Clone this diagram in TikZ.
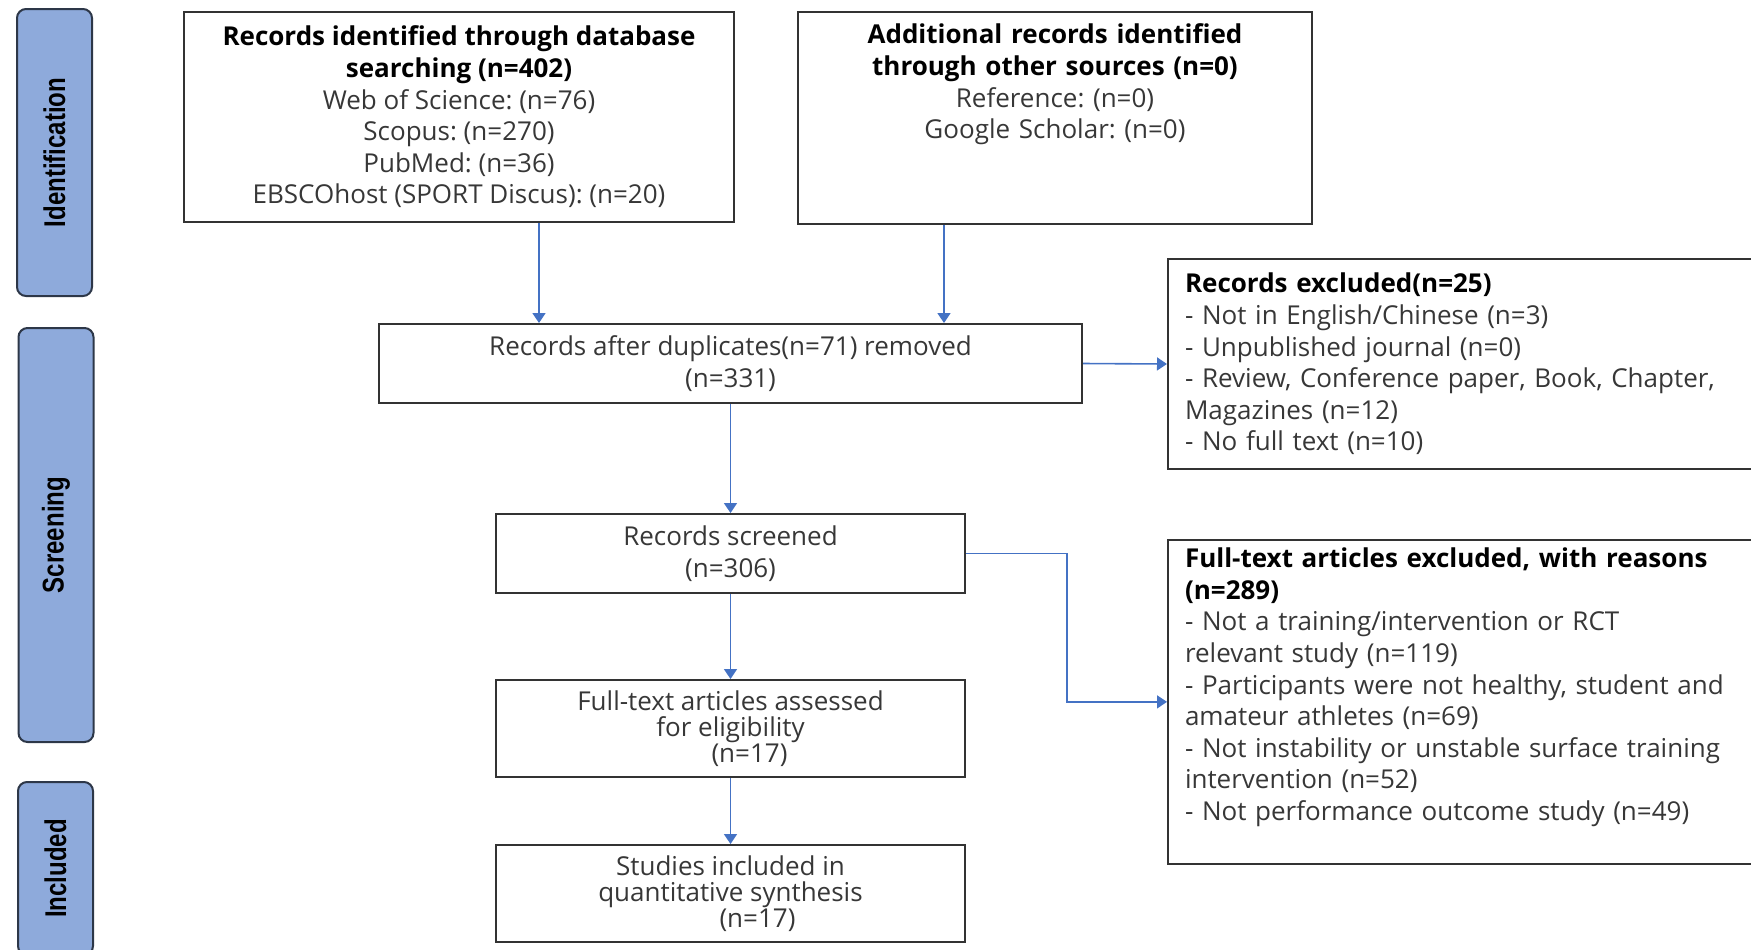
\documentclass[tikz,border=0pt]{standalone}
\usepackage{fontspec}
\setmainfont{Open Sans}
\newfontfamily\barfont{Liberation Sans}
\usetikzlibrary{arrows.meta}
\definecolor{barblue}{RGB}{142,170,219}
\definecolor{barline}{RGB}{45,55,72}
\definecolor{arrowblue}{RGB}{68,114,196}
\definecolor{txtgray}{RGB}{55,55,55}
\newcommand{\hd}[1]{\textcolor{black}{\textbf{#1}}}
\frenchspacing
\tikzset{
  box/.style={draw=black!80, line width=1pt, text=txtgray, inner sep=0pt, align=center, font=\fontsize{13}{15.8}\selectfont},
  sidebar/.style={draw=barline, fill=barblue, line width=1pt, rounded corners=4.5pt, inner sep=0pt, rotate=90, minimum height=37.5pt, font=\barfont\bfseries\fontsize{15}{15}\selectfont},
  arr/.style={draw=arrowblue, line width=0.8pt, -{Triangle[length=5pt,width=6.5pt]}},
}
\begin{document}
\begin{tikzpicture}[x=0.5pt,y=-0.5pt]
\useasboundingbox (0,0) rectangle (1751,949);
% stage bars
\node[sidebar, minimum width=143.5pt] (ident) at (54.5,152.5) {\scalebox{0.8}[1]{Identification}};
\node[sidebar, minimum width=207pt] (screen) at (56,535) {\scalebox{0.8}[1]{Screening}};
\node[sidebar, minimum width=86.5pt] (inclbar) at (55.5,868.5) {\scalebox{0.8}[1]{Included}};
% boxes
\node[box, minimum width=275pt, minimum height=105pt] (dbbox) at (459,117) {\hd{Records identified through database}\\\hd{searching (n=402)}\\Web of Science: (n=76)\\Scopus: (n=270)\\PubMed: (n=36)\\EBSCOhost (SPORT Discus): (n=20)};
\node[box, anchor=north, text width=257pt, inner ysep=6pt, text depth=84pt] (otherbox) at (1055,11) {\hd{Additional records identified}\\\hd{through other sources (n=0)}\\Reference: (n=0)\\Google Scholar: (n=0)};
\node[box, minimum width=351.5pt, minimum height=39.5pt] (dups) at (730.5,363.5) {Records after duplicates(n=71) removed\\(n=331)};
\node[box, anchor=west, align=left, text width=300pt, inner xsep=8.5pt, inner ysep=5pt, minimum height=105pt] (recexcl) at (1167,364) {\hd{Records excluded(n=25)}\\- Not in English/Chinese (n=3)\\- Unpublished journal (n=0)\\- Review, Conference paper, Book, Chapter,\\Magazines (n=12)\\- No full text (n=10)};
\node[box, minimum width=234.5pt, minimum height=39.5pt] (screened) at (730.5,553.5) {Records screened\\(n=306)};
\node[box, anchor=north west, align=left, text width=300pt, inner xsep=8.5pt, inner ysep=4pt, text depth=144pt] (ftexcl) at (1167,539) {\hd{Full-text articles excluded, with reasons}\\\hd{(n=289)}\\- Not a training/intervention or RCT\\relevant study (n=119)\\- Participants were not healthy, student and\\amateur athletes (n=69)\\- Not instability or unstable surface training\\intervention (n=52)\\- Not performance outcome study (n=49)};
\node[box, minimum width=234.5pt, minimum height=48.5pt, font=\fontsize{13}{13}\selectfont] (fulltext) at (730.5,728.5) {Full-text articles assessed\\for eligibility\\\hspace*{19pt}(n=17)};
\node[box, minimum width=234.5pt, minimum height=48.5pt, font=\fontsize{13}{13}\selectfont] (incl) at (730.5,893.5) {Studies included in\\quantitative synthesis\\\hspace*{27pt}(n=17)};
% connectors
\coordinate (a1) at (539,0);
\coordinate (a2) at (944,0);
\draw[arr] (a1 |- dbbox.south) -- (a1 |- dups.north);
\draw[arr] (a2 |- otherbox.south) -- (a2 |- dups.north);
\draw[arr] (dups.east) -- (recexcl.west);
\draw[arr] (dups) -- (screened);
\draw[arr] (screened.east) -- ++(101,0) |- (ftexcl.west);
\draw[arr] (screened) -- (fulltext);
\draw[arr] (fulltext) -- (incl);
\end{tikzpicture}
\end{document}
